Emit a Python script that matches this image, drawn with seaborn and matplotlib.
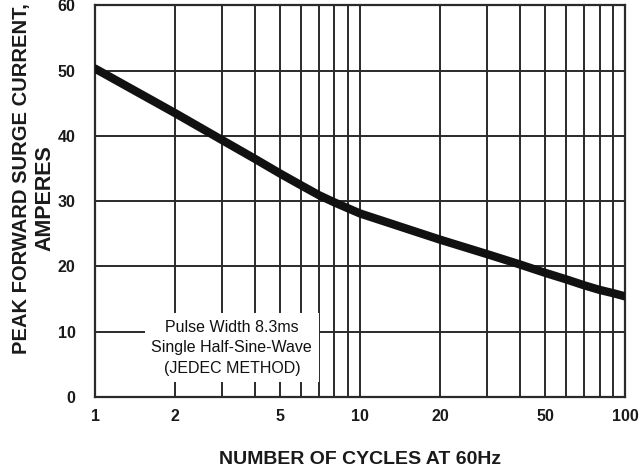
import matplotlib
matplotlib.use("Agg")
import matplotlib.pyplot as plt
import matplotlib.ticker as mticker
import pandas as pd
import seaborn as sns

# surge curve
cycles = [1, 2, 3, 4, 5, 6, 7, 8, 9, 10, 20, 30, 40, 50, 60, 70, 80, 90, 100]
current = [50.3, 43.5, 39.4, 36.5, 34.2, 32.4, 30.9, 29.8, 28.9, 28.1,
           24.1, 21.9, 20.3, 19.0, 18.0, 17.1, 16.4, 15.9, 15.4]

x_ticks = [1, 2, 5, 10, 20, 50, 100]
x_grid = [2, 3, 4, 5, 6, 7, 8, 9, 10, 20, 30, 40, 50, 60, 70, 80, 90]
y_ticks = [0, 10, 20, 30, 40, 50, 60]

df = pd.DataFrame({"cycles": cycles, "current": current})

sns.set_style("white")
plt.rcParams["font.family"] = ["Liberation Sans", "DejaVu Sans"]

fig = plt.figure(figsize=(6.42, 4.76), dpi=100)
ax = fig.add_axes([0.148, 0.166, 0.826, 0.823])

line_col = "#2a2a2a"
for gx in x_grid:
    ax.axvline(gx, color=line_col, lw=1.4, zorder=1)
for gy in y_ticks[1:-1]:
    ax.axhline(gy, color=line_col, lw=1.4, zorder=1)

sns.lineplot(data=df, x="cycles", y="current", color="#111111", lw=6,
             ax=ax, zorder=3)

ax.set_xscale("log")
ax.set_xlim(1, 100)
ax.set_ylim(0, 60)
ax.xaxis.set_major_locator(mticker.FixedLocator(x_ticks))
ax.xaxis.set_minor_locator(mticker.NullLocator())
ax.xaxis.set_major_formatter(mticker.FixedFormatter([str(v) for v in x_ticks]))
ax.set_yticks(y_ticks)
ax.tick_params(length=0, labelsize=11.5, colors="#1a1a1a")
ax.tick_params(axis="x", pad=9)
ax.tick_params(axis="y", pad=14)
for lab in ax.get_xticklabels() + ax.get_yticklabels():
    lab.set_fontweight("bold")

for s in ax.spines.values():
    s.set_color(line_col)
    s.set_linewidth(1.6)
    s.set_visible(True)

ax.set_xlabel("NUMBER OF CYCLES AT 60Hz", fontsize=14, fontweight="bold",
              color="#1a1a1a", labelpad=19)
ax.set_ylabel("")

# two-line y label, first line reaching almost to the top edge
fig.text(22 / 642, 1 - 3 / 476, "PEAK FORWARD SURGE CURRENT,", rotation=90,
         ha="center", va="top", fontsize=14.5, fontweight="bold",
         color="#1a1a1a")
fig.text(45 / 642, 1 - 198 / 476, "AMPERES", rotation=90,
         ha="center", va="center", fontsize=15.5, fontweight="bold",
         color="#1a1a1a")

ax.text(0.258, 0.126, "Pulse Width 8.3ms\nSingle Half-Sine-Wave\n(JEDEC METHOD)",
        transform=ax.transAxes, ha="center", va="center", fontsize=11.5,
        color="#111111", linespacing=1.45, zorder=4,
        bbox=dict(facecolor="white", edgecolor="none", pad=5))

fig.savefig("out.png", dpi=100)
